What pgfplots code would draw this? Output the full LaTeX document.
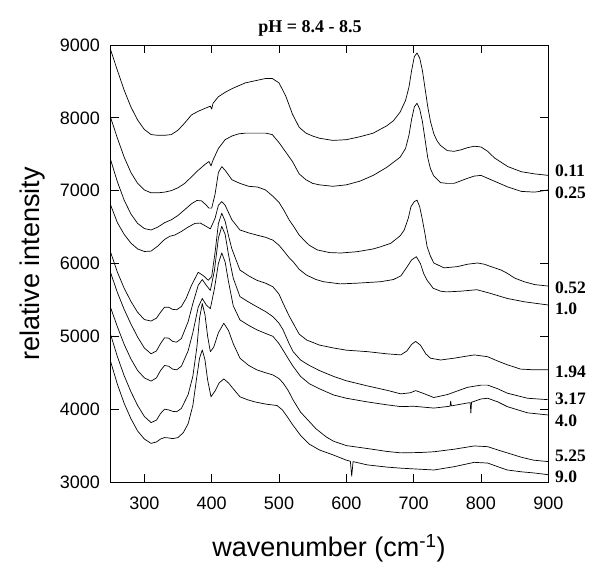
\documentclass[border=0pt]{standalone}
\usepackage{fontspec}
\usepackage{pgfplots}
\pgfplotsset{compat=1.18}
\newfontfamily\sansf{Liberation Sans}
\newfontfamily\seriff{Liberation Serif}
\begin{document}
\begin{tikzpicture}
\useasboundingbox (-110.7pt,-86pt) rectangle (489.3pt,482pt);
\begin{axis}[
  width=437.6pt, height=437pt, scale only axis,
  xmin=250, xmax=900, ymin=3000, ymax=9000,
  xtick={300,400,500,600,700,800,900},
  ytick={3000,4000,5000,6000,7000,8000,9000},
  tick align=inside, major tick length=8pt,
  axis line style={line width=0.8pt},
  tick style={line width=0.8pt, black},
  scaled ticks=false,
  /pgf/number format/assume math mode=true,
  /pgf/number format/1000 sep={},
  tick label style={font=\sansf\fontsize{18}{20}\selectfont},
  yticklabel style={anchor=east, inner sep=0pt, xshift=-10.7pt},
  xticklabel style={anchor=north, inner sep=0pt, yshift=-14.7pt},
  clip=false,
  curve/.style={black, solid, line width=0.7pt, mark=none, line join=round},
]
% 0.11
\addplot[curve] coordinates {(250,8930)(260,8650)(270,8380)(280,8150)(290,7970)(300,7840)(310,7770)(320,7760)(330,7760)(340,7770)(350,7830)(360,7930)(370,8040)(380,8090)(390,8130)(398,8160)(400,8120)(402,8200)(410,8290)(420,8350)(430,8400)(440,8440)(450,8480)(460,8500)(470,8520)(480,8540)(490,8540)(500,8480)(510,8300)(520,8050)(530,7870)(540,7790)(550,7750)(560,7720)(580,7690)(600,7700)(620,7740)(640,7790)(660,7890)(670,7960)(680,8080)(688,8240)(693,8420)(697,8650)(701,8840)(705,8890)(709,8820)(713,8650)(717,8400)(721,8150)(725,7950)(730,7780)(735,7680)(740,7620)(750,7550)(760,7540)(770,7560)(780,7590)(790,7610)(800,7600)(810,7540)(820,7450)(840,7330)(860,7260)(880,7230)(900,7210)};
% 0.25
\addplot[curve] coordinates {(250,8000)(260,7720)(270,7460)(280,7250)(290,7100)(300,7010)(310,6970)(320,6970)(330,6980)(340,7000)(350,7040)(360,7100)(370,7190)(380,7280)(390,7360)(396,7400)(399,7340)(402,7420)(410,7580)(420,7700)(430,7750)(440,7780)(450,7790)(460,7790)(470,7790)(480,7790)(490,7770)(500,7660)(510,7530)(520,7400)(530,7230)(540,7150)(550,7100)(560,7080)(580,7060)(600,7080)(620,7130)(640,7210)(660,7320)(670,7390)(680,7460)(688,7580)(693,7760)(697,7980)(701,8150)(705,8200)(709,8120)(713,7950)(717,7700)(721,7450)(725,7300)(730,7200)(740,7110)(750,7100)(760,7100)(780,7170)(790,7200)(800,7210)(810,7170)(820,7130)(840,7050)(860,6990)(880,6980)(900,7010)};
% 0.52
\addplot[curve] coordinates {(250,7420)(260,7120)(270,6870)(280,6680)(290,6550)(300,6480)(310,6460)(320,6500)(330,6560)(340,6600)(350,6660)(360,6740)(370,6820)(378,6865)(385,6860)(391,6810)(396,6760)(400,6760)(405,6950)(410,7250)(415,7330)(420,7280)(430,7150)(442,7100)(455,7060)(468,7050)(480,7010)(490,6930)(500,6840)(507,6735)(515,6600)(522,6506)(530,6390)(537,6323)(545,6250)(557,6186)(575,6150)(592,6144)(616,6162)(640,6200)(651,6230)(666,6277)(680,6380)(686,6460)(692,6620)(696,6780)(701,6850)(705,6870)(709,6780)(713,6600)(717,6400)(720,6230)(725,6100)(730,6007)(745,5940)(765,5957)(780,5990)(795,6007)(805,5990)(815,5957)(830,5910)(839,5866)(850,5800)(864,5750)(880,5710)(900,5690)};
% 1.0
\addplot[curve] coordinates {(250,6800)(260,6560)(270,6400)(280,6280)(290,6200)(300,6165)(310,6170)(320,6240)(330,6330)(338,6375)(345,6390)(355,6440)(365,6500)(375,6550)(383,6555)(390,6520)(398,6475)(405,6620)(410,6800)(415,6850)(420,6800)(425,6700)(430,6600)(442,6460)(455,6420)(467,6390)(480,6360)(491,6320)(500,6250)(506,6185)(515,6080)(521,6025)(530,5920)(541,5840)(555,5780)(566,5750)(591,5720)(616,5730)(651,5750)(670,5780)(681,5830)(690,5950)(697,6050)(704,6093)(710,6000)(715,5860)(720,5770)(729,5660)(740,5620)(749,5610)(770,5620)(794,5640)(814,5590)(839,5520)(864,5475)(900,5430)};
% 1.94
\addplot[curve] coordinates {(250,6150)(260,5880)(270,5660)(280,5480)(290,5330)(300,5230)(310,5210)(318,5250)(324,5330)(330,5400)(336,5400)(342,5370)(348,5365)(355,5410)(362,5520)(370,5700)(380,5880)(388,5830)(395,5770)(400,5820)(405,6150)(410,6550)(415,6690)(420,6580)(425,6380)(430,6200)(442,5910)(455,5830)(467,5770)(480,5730)(491,5680)(500,5580)(506,5455)(515,5280)(521,5180)(530,5030)(541,4950)(560,4880)(581,4840)(600,4810)(631,4790)(660,4760)(681,4745)(690,4800)(697,4890)(703,4930)(710,4880)(718,4760)(725,4700)(740,4675)(760,4700)(790,4745)(810,4720)(825,4660)(839,4610)(859,4550)(880,4540)(900,4540)};
% 3.17
\addplot[curve] coordinates {(250,5870)(260,5600)(270,5370)(280,5170)(290,4990)(300,4840)(310,4760)(318,4800)(324,4900)(330,4980)(336,4975)(342,4930)(348,4920)(355,4970)(365,5200)(372,5450)(380,5700)(386,5780)(392,5700)(398,5630)(404,5900)(410,6350)(415,6510)(420,6400)(425,6120)(432,5800)(442,5545)(455,5470)(467,5407)(480,5340)(491,5270)(500,5180)(506,5090)(515,4900)(521,4790)(532,4675)(545,4600)(560,4530)(581,4450)(600,4390)(631,4320)(660,4260)(681,4210)(695,4225)(703,4255)(712,4225)(730,4160)(750,4200)(780,4300)(800,4330)(810,4330)(825,4280)(839,4220)(869,4150)(900,4130)};
% 4.0
\addplot[curve] coordinates {(250,5390)(260,5130)(270,4890)(280,4690)(290,4530)(300,4430)(310,4385)(318,4430)(324,4530)(330,4600)(336,4590)(342,4550)(348,4540)(355,4590)(365,4800)(372,5050)(380,5400)(386,5520)(392,5430)(398,5380)(404,5650)(410,6000)(415,6145)(420,6020)(425,5750)(432,5420)(442,5225)(455,5150)(467,5090)(480,5040)(491,5000)(500,4900)(510,4750)(520,4600)(532,4450)(545,4350)(560,4280)(581,4195)(600,4150)(631,4100)(660,4060)(681,4035)(700,4040)(730,4015)(754,4040)(755,4110)(756,4045)(780,4085)(784,4090)(785,3945)(786,4095)(800,4140)(810,4150)(825,4100)(839,4035)(869,3950)(900,3920)};
% 5.25
\addplot[curve] coordinates {(250,5020)(260,4720)(270,4460)(280,4240)(290,4050)(300,3900)(310,3815)(318,3850)(324,3940)(330,4000)(336,3990)(342,3970)(348,3965)(355,4010)(365,4200)(372,4450)(378,4850)(382,5250)(386,5450)(390,5300)(394,5000)(398,4790)(403,4850)(410,5050)(418,5180)(425,5080)(432,4900)(442,4700)(455,4600)(467,4540)(480,4500)(491,4470)(500,4420)(506,4360)(514,4250)(521,4125)(532,3960)(541,3870)(555,3730)(570,3620)(581,3560)(600,3500)(631,3460)(660,3420)(681,3400)(710,3405)(730,3415)(760,3450)(790,3495)(810,3485)(825,3440)(839,3400)(860,3340)(878,3300)(900,3280)};
% 9.0
\addplot[curve] coordinates {(250,4650)(260,4340)(270,4080)(280,3870)(290,3700)(300,3590)(310,3530)(318,3550)(324,3590)(330,3610)(336,3605)(342,3595)(350,3610)(358,3680)(365,3800)(372,4050)(378,4450)(382,4700)(386,4813)(390,4680)(394,4400)(399,4170)(405,4250)(411,4360)(418,4415)(425,4360)(432,4280)(442,4170)(453,4130)(464,4100)(480,4070)(497,4050)(505,3990)(512,3900)(520,3790)(532,3640)(545,3520)(560,3440)(581,3370)(600,3300)(606,3285)(608,3080)(610,3280)(631,3235)(660,3205)(681,3190)(710,3175)(730,3165)(760,3210)(790,3270)(810,3260)(825,3210)(839,3165)(860,3140)(878,3125)(900,3100)};
\begin{scope}[every node/.style={anchor=west, inner sep=0pt, xshift=6.7pt, font=\seriff\bfseries\fontsize{17.5}{20}\selectfont}]
\node at (axis cs:900,7270) {0.11};
\node at (axis cs:900,6968) {0.25};
\node at (axis cs:900,5664) {0.52};
\node at (axis cs:900,5375) {1.0};
\node at (axis cs:900,4515) {1.94};
\node at (axis cs:900,4140) {3.17};
\node at (axis cs:900,3838) {4.0};
\node at (axis cs:900,3357) {5.25};
\node at (axis cs:900,3072) {9.0};
\end{scope}
\end{axis}
\node[font=\seriff\bfseries\fontsize{18}{20}\selectfont, anchor=base] at (199.3pt,449pt) {pH = 8.4 - 8.5};
\node[font=\sansf\fontsize{27}{30}\selectfont, anchor=base] at (218.3pt,-74.7pt) {wavenumber (cm\textsuperscript{-1})};
\node[font=\sansf\fontsize{27}{30}\selectfont, rotate=90, anchor=base] at (-71.2pt,218pt) {relative intensity};
\end{tikzpicture}
\end{document}
